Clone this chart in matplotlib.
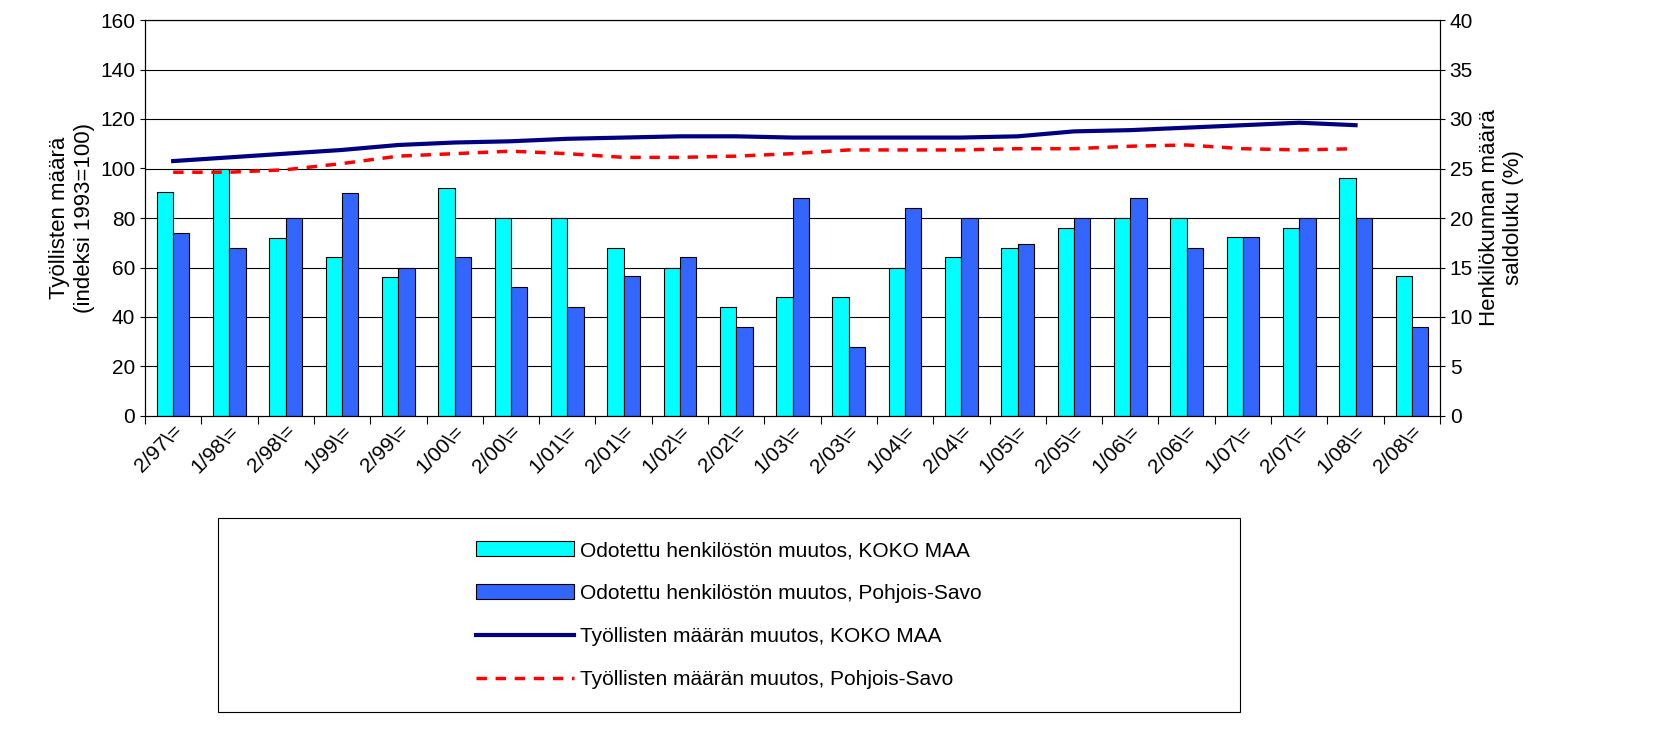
import numpy as np
import matplotlib
matplotlib.use('Agg')
from matplotlib import pyplot as plt
from matplotlib.patches import Rectangle

plt.rcParams['font.family'] = ['Liberation Sans', 'DejaVu Sans']

periods = ['2/97', '1/98', '2/98', '1/99', '2/99', '1/00', '2/00', '1/01', '2/01', '1/02',
           '2/02', '1/03', '2/03', '1/04', '2/04', '1/05', '2/05', '1/06', '2/06', '1/07',
           '2/07', '1/08', '2/08']
labels = [p + '\\=' for p in periods]

# saldoluku (%), right axis
koko_bars = [22.6, 25, 18, 16.1, 14, 23, 20, 20, 17, 15, 11, 12, 12, 15, 16.1, 17,
             19, 20, 20, 18.1, 19, 24, 14.1]
savo_bars = [18.5, 17, 20, 22.5, 15, 16.1, 13, 11, 14.1, 16.1, 9, 22, 7, 21, 20, 17.4,
             20, 22, 17, 18.1, 20, 20, 9]
# index 1993=100, left axis
koko_line = [103, 104.5, 106, 107.5, 109.5, 110.5, 111, 112, 112.5, 113, 113, 112.5,
             112.5, 112.5, 112.5, 113, 115, 115.5, 116.5, 117.5, 118.5, 117.5]
savo_line = [98.5, 98.5, 99.5, 102, 105, 106, 107, 106, 104.5, 104.5, 105, 106, 107.5,
             107.5, 107.5, 108, 108, 109, 109.5, 108, 107.5, 108]

fig = plt.figure(figsize=(16.67, 7.53), dpi=100)
ax = fig.add_axes([145 / 1667, 1 - 416 / 753, 1295 / 1667, 396 / 753])
ax2 = ax.twinx()

x = np.arange(len(periods))
w = 0.29
b1 = ax2.bar(x - w / 2, koko_bars, w, color='#00FFFF', edgecolor='black', linewidth=0.8,
             label='Odotettu henkilöstön muutos, KOKO MAA')
b2 = ax2.bar(x + w / 2, savo_bars, w, color='#3366FF', edgecolor='black', linewidth=0.8,
             label='Odotettu henkilöstön muutos, Pohjois-Savo')
xl = np.arange(len(koko_line))
l1, = ax.plot(xl, koko_line, color='#000080', lw=3, label='Työllisten määrän muutos, KOKO MAA')
l2, = ax.plot(xl, savo_line, color='#FF0000', lw=2.5, ls=(0, (3, 2.5)),
              label='Työllisten määrän muutos, Pohjois-Savo')
ax.set_zorder(ax2.get_zorder() + 1)
ax.patch.set_visible(False)

ax.set_xlim(-0.5, len(periods) - 0.5)
ax.set_ylim(0, 160)
ax.set_yticks(range(0, 161, 20))
ax2.set_ylim(0, 40)
ax2.set_yticks(range(0, 41, 5))
for y in range(20, 161, 20):
    ax2.axhline(y / 4, color='black', lw=0.8, zorder=0)
ax.set_xticks(np.arange(-0.5, len(periods)), minor=False, labels=[''] * (len(periods) + 1))
ax.set_xticks(x, minor=True, labels=labels)
ax.tick_params(axis='x', which='minor', length=0, labelsize=15, labelrotation=45, pad=4)
for t in ax.get_xticklabels(minor=True):
    t.set_ha('right')
    t.set_rotation_mode('anchor')
ax.tick_params(axis='x', which='major', length=6)
ax.tick_params(axis='y', labelsize=15)
ax2.tick_params(axis='y', labelsize=15)
ax.set_ylabel('Työllisten määrä\n(indeksi 1993=100)', fontsize=16)
ax2.set_ylabel('Henkilökunnan määrä\nsaldoluku (%)', fontsize=16)

# legend frame drawn separately, entries centred in it
fig.patches.append(Rectangle((218 / 1667, 1 - 712 / 753), 1022 / 1667, 194 / 753,
                             transform=fig.transFigure, fill=False, edgecolor='black', lw=0.8))
leg = fig.legend([b1, b2, l1, l2], [h.get_label() for h in (b1, b2, l1, l2)],
                 loc='center', bbox_to_anchor=(729 / 1667, 1 - 615 / 753),
                 fontsize=15, frameon=False, labelspacing=1.15, handlelength=4.7,
                 handletextpad=0.3)

fig.savefig('out.png')
